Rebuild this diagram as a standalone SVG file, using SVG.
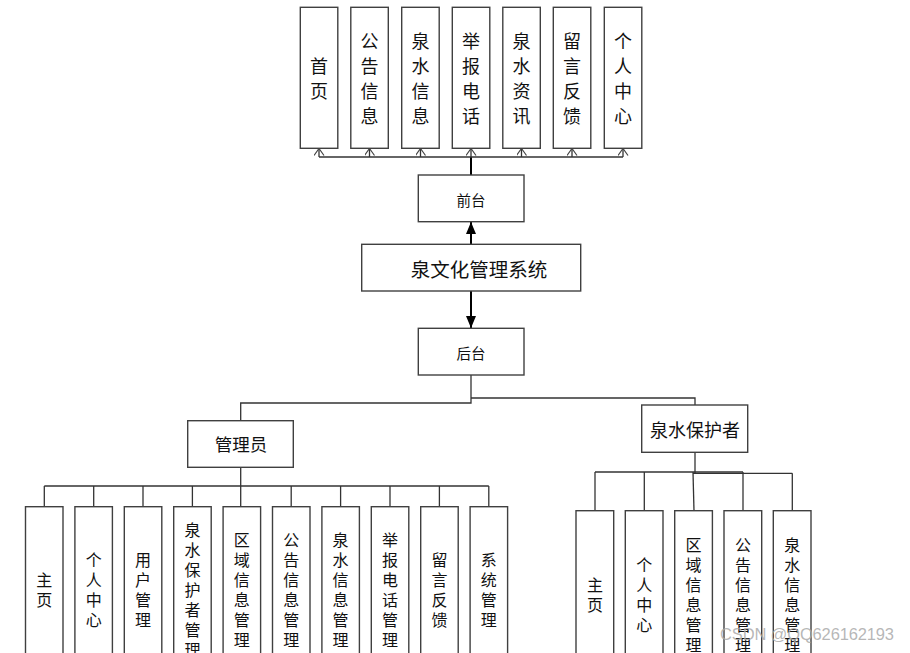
<svg xmlns="http://www.w3.org/2000/svg" width="910" height="653" viewBox="0 0 910 653">
<style>
.box{fill:#fff;stroke:#404040;stroke-width:1.4}
.t{font-family:"Noto Sans CJK SC","Noto Sans",sans-serif;fill:#111;text-anchor:middle;dominant-baseline:central}
.ln{fill:none;stroke:#333;stroke-width:1.3}
.thick{fill:none;stroke:#000;stroke-width:2}
.f18{font-size:18px}
.f16{font-size:16px}
.f15{font-size:14.5px}
</style>
<defs>
<marker id="open" markerUnits="userSpaceOnUse" markerWidth="12" markerHeight="12" refX="10" refY="5" orient="auto" viewBox="0 0 12 12">
<path d="M3,0 L10,5 L3,10" fill="none" stroke="#444" stroke-width="1.2"/>
</marker>
<marker id="solid" markerUnits="userSpaceOnUse" markerWidth="13" markerHeight="11" refX="12" refY="5" orient="auto" viewBox="0 0 13 11">
<path d="M0,0 L12,5 L0,10 Z" fill="#000"/>
</marker>
</defs>
<rect width="910" height="653" fill="#fff"/>

<g id="connectors">
<line class="thick" x1="471" y1="175" x2="471" y2="157"/>
<line class="ln" x1="319" y1="157" x2="623" y2="157"/>
<line class="ln" x1="319" y1="157" x2="319" y2="148.5" marker-end="url(#open)"/>
<line class="ln" x1="369.5" y1="157" x2="369.5" y2="148.5" marker-end="url(#open)"/>
<line class="ln" x1="420.5" y1="157" x2="420.5" y2="148.5" marker-end="url(#open)"/>
<line class="ln" x1="471" y1="157" x2="471" y2="148.5" marker-end="url(#open)"/>
<line class="ln" x1="521.5" y1="157" x2="521.5" y2="148.5" marker-end="url(#open)"/>
<line class="ln" x1="572" y1="157" x2="572" y2="148.5" marker-end="url(#open)"/>
<line class="ln" x1="623" y1="157" x2="623" y2="148.5" marker-end="url(#open)"/>
<line class="thick" x1="471" y1="244" x2="471" y2="222" marker-end="url(#solid)"/>
<line class="thick" x1="471" y1="291" x2="471" y2="328" marker-end="url(#solid)"/>
<polyline class="ln" points="471,375 471,403 240.7,403 240.7,421"/>
<polyline class="ln" points="471,398 695,398 695,405"/>
<line class="ln" x1="240.7" y1="467" x2="240.7" y2="507"/>
<line class="ln" x1="44.3" y1="486" x2="488.8" y2="486"/>
<line class="ln" x1="44.3" y1="486" x2="44.3" y2="507"/>
<line class="ln" x1="93.7" y1="486" x2="93.7" y2="507"/>
<line class="ln" x1="143" y1="486" x2="143" y2="507"/>
<line class="ln" x1="192.4" y1="486" x2="192.4" y2="507"/>
<line class="ln" x1="291.2" y1="486" x2="291.2" y2="507"/>
<line class="ln" x1="340.6" y1="486" x2="340.6" y2="507"/>
<line class="ln" x1="390" y1="486" x2="390" y2="507"/>
<line class="ln" x1="439.4" y1="486" x2="439.4" y2="507"/>
<line class="ln" x1="488.8" y1="486" x2="488.8" y2="507"/>
<line class="ln" x1="695" y1="452" x2="695" y2="473"/>
<line class="ln" x1="595" y1="472" x2="743" y2="472"/>
<line class="ln" x1="693" y1="473.3" x2="792.3" y2="473.3"/>
<line class="ln" x1="595" y1="472" x2="595" y2="511"/>
<line class="ln" x1="644.3" y1="472" x2="644.3" y2="511"/>
<line class="ln" x1="693" y1="472" x2="694" y2="511"/>
<line class="ln" x1="743" y1="472" x2="743" y2="511"/>
<line class="ln" x1="792.3" y1="473.3" x2="792.3" y2="511"/>
</g>

<g id="top-home"><rect class="box" x="300.3" y="7.3" width="37.5" height="141"/><text class="t f18"><tspan x="319" y="64.5">首</tspan><tspan x="319" y="89.5">页</tspan></text></g>
<g id="top-notice"><rect class="box" x="350.8" y="7.3" width="37.5" height="141"/><text class="t f18"><tspan x="369.5" y="39.5">公</tspan><tspan x="369.5" y="64.5">告</tspan><tspan x="369.5" y="89.5">信</tspan><tspan x="369.5" y="114.5">息</tspan></text></g>
<g id="top-spring"><rect class="box" x="401.7" y="7.3" width="37.5" height="141"/><text class="t f18"><tspan x="420.5" y="39.5">泉</tspan><tspan x="420.5" y="64.5">水</tspan><tspan x="420.5" y="89.5">信</tspan><tspan x="420.5" y="114.5">息</tspan></text></g>
<g id="top-report"><rect class="box" x="452.3" y="7.3" width="37.5" height="141"/><text class="t f18"><tspan x="471" y="39.5">举</tspan><tspan x="471" y="64.5">报</tspan><tspan x="471" y="89.5">电</tspan><tspan x="471" y="114.5">话</tspan></text></g>
<g id="top-news"><rect class="box" x="502.8" y="7.3" width="37.5" height="141"/><text class="t f18"><tspan x="521.5" y="39.5">泉</tspan><tspan x="521.5" y="64.5">水</tspan><tspan x="521.5" y="89.5">资</tspan><tspan x="521.5" y="114.5">讯</tspan></text></g>
<g id="top-feedback"><rect class="box" x="553.3" y="7.3" width="37.5" height="141"/><text class="t f18"><tspan x="572" y="39.5">留</tspan><tspan x="572" y="64.5">言</tspan><tspan x="572" y="89.5">反</tspan><tspan x="572" y="114.5">馈</tspan></text></g>
<g id="top-personal"><rect class="box" x="604.3" y="7.3" width="37.5" height="141"/><text class="t f18"><tspan x="623" y="39.5">个</tspan><tspan x="623" y="64.5">人</tspan><tspan x="623" y="89.5">中</tspan><tspan x="623" y="114.5">心</tspan></text></g>

<g id="frontend"><rect class="box" x="418.3" y="175" width="105.7" height="46.7"/><text class="t f15" x="471" y="199">前台</text></g>
<g id="system"><rect class="box" x="361.7" y="244.3" width="219" height="46.7"/><text class="t" style="font-size:19.5px" x="479" y="268">泉文化管理系统</text></g>
<g id="backend"><rect class="box" x="418.3" y="328.3" width="105.7" height="46.7"/><text class="t f15" x="471" y="352.5">后台</text></g>
<g id="admin"><rect class="box" x="187.7" y="420.7" width="105.6" height="46.6"/><text class="t" style="font-size:17.5px" x="241" y="443">管理员</text></g>
<g id="protector"><rect class="box" x="641.7" y="405" width="106" height="47.3"/><text class="t f18" x="695" y="429">泉水保护者</text></g>

<g id="a-home"><rect class="box" x="25.5" y="506.7" width="37.5" height="170"/><text class="t f16"><tspan x="44.3" y="578.5">主</tspan><tspan x="44.3" y="598.5">页</tspan></text></g>
<g id="a-personal"><rect class="box" x="74.9" y="506.7" width="37.5" height="170"/><text class="t f16"><tspan x="93.7" y="558.5">个</tspan><tspan x="93.7" y="578.5">人</tspan><tspan x="93.7" y="598.5">中</tspan><tspan x="93.7" y="618.5">心</tspan></text></g>
<g id="a-user"><rect class="box" x="124.3" y="506.7" width="37.5" height="170"/><text class="t f16"><tspan x="143" y="558.5">用</tspan><tspan x="143" y="578.5">户</tspan><tspan x="143" y="598.5">管</tspan><tspan x="143" y="618.5">理</tspan></text></g>
<g id="a-protector"><rect class="box" x="173.7" y="506.7" width="37.5" height="170"/><text class="t f16"><tspan x="192.4" y="528.5">泉</tspan><tspan x="192.4" y="548.5">水</tspan><tspan x="192.4" y="568.5">保</tspan><tspan x="192.4" y="588.5">护</tspan><tspan x="192.4" y="608.5">者</tspan><tspan x="192.4" y="628.5">管</tspan><tspan x="192.4" y="648.5">理</tspan></text></g>
<g id="a-region"><rect class="box" x="223.1" y="506.7" width="37.5" height="170"/><text class="t f16"><tspan x="241.8" y="538.5">区</tspan><tspan x="241.8" y="558.5">域</tspan><tspan x="241.8" y="578.5">信</tspan><tspan x="241.8" y="598.5">息</tspan><tspan x="241.8" y="618.5">管</tspan><tspan x="241.8" y="638.5">理</tspan></text></g>
<g id="a-notice"><rect class="box" x="272.5" y="506.7" width="37.5" height="170"/><text class="t f16"><tspan x="291.2" y="538.5">公</tspan><tspan x="291.2" y="558.5">告</tspan><tspan x="291.2" y="578.5">信</tspan><tspan x="291.2" y="598.5">息</tspan><tspan x="291.2" y="618.5">管</tspan><tspan x="291.2" y="638.5">理</tspan></text></g>
<g id="a-spring"><rect class="box" x="321.9" y="506.7" width="37.5" height="170"/><text class="t f16"><tspan x="340.6" y="538.5">泉</tspan><tspan x="340.6" y="558.5">水</tspan><tspan x="340.6" y="578.5">信</tspan><tspan x="340.6" y="598.5">息</tspan><tspan x="340.6" y="618.5">管</tspan><tspan x="340.6" y="638.5">理</tspan></text></g>
<g id="a-report"><rect class="box" x="371.3" y="506.7" width="37.5" height="170"/><text class="t f16"><tspan x="390" y="538.5">举</tspan><tspan x="390" y="558.5">报</tspan><tspan x="390" y="578.5">电</tspan><tspan x="390" y="598.5">话</tspan><tspan x="390" y="618.5">管</tspan><tspan x="390" y="638.5">理</tspan></text></g>
<g id="a-feedback"><rect class="box" x="420.7" y="506.7" width="37.5" height="170"/><text class="t f16"><tspan x="439.4" y="558.5">留</tspan><tspan x="439.4" y="578.5">言</tspan><tspan x="439.4" y="598.5">反</tspan><tspan x="439.4" y="618.5">馈</tspan></text></g>
<g id="a-system"><rect class="box" x="470.1" y="506.7" width="37.5" height="170"/><text class="t f16"><tspan x="488.8" y="558.5">系</tspan><tspan x="488.8" y="578.5">统</tspan><tspan x="488.8" y="598.5">管</tspan><tspan x="488.8" y="618.5">理</tspan></text></g>

<g id="p-home"><rect class="box" x="576" y="510.7" width="37.7" height="170"/><text class="t f16"><tspan x="594.9" y="583.5">主</tspan><tspan x="594.9" y="603.5">页</tspan></text></g>
<g id="p-personal"><rect class="box" x="625.3" y="510.7" width="37.7" height="170"/><text class="t f16"><tspan x="644.2" y="563.5">个</tspan><tspan x="644.2" y="583.5">人</tspan><tspan x="644.2" y="603.5">中</tspan><tspan x="644.2" y="623.5">心</tspan></text></g>
<g id="p-region"><rect class="box" x="674.7" y="510.7" width="37.7" height="170"/><text class="t f16"><tspan x="693.5" y="543.5">区</tspan><tspan x="693.5" y="563.5">域</tspan><tspan x="693.5" y="583.5">信</tspan><tspan x="693.5" y="603.5">息</tspan><tspan x="693.5" y="623.5">管</tspan><tspan x="693.5" y="643.5">理</tspan></text></g>
<g id="p-notice"><rect class="box" x="724" y="510.7" width="37.7" height="170"/><text class="t f16"><tspan x="742.9" y="543.5">公</tspan><tspan x="742.9" y="563.5">告</tspan><tspan x="742.9" y="583.5">信</tspan><tspan x="742.9" y="603.5">息</tspan><tspan x="742.9" y="623.5">管</tspan><tspan x="742.9" y="643.5">理</tspan></text></g>
<g id="p-spring"><rect class="box" x="773.3" y="510.7" width="37.7" height="170"/><text class="t f16"><tspan x="792.2" y="543.5">泉</tspan><tspan x="792.2" y="563.5">水</tspan><tspan x="792.2" y="583.5">信</tspan><tspan x="792.2" y="603.5">息</tspan><tspan x="792.2" y="623.5">管</tspan><tspan x="792.2" y="643.5">理</tspan></text></g>

<text x="720" y="640" style="font-family:'Liberation Sans',Arial,sans-serif;font-size:16.5px;fill:#aaa;fill-opacity:0.85" textLength="174">CSDN @QQ626162193</text>
</svg>
